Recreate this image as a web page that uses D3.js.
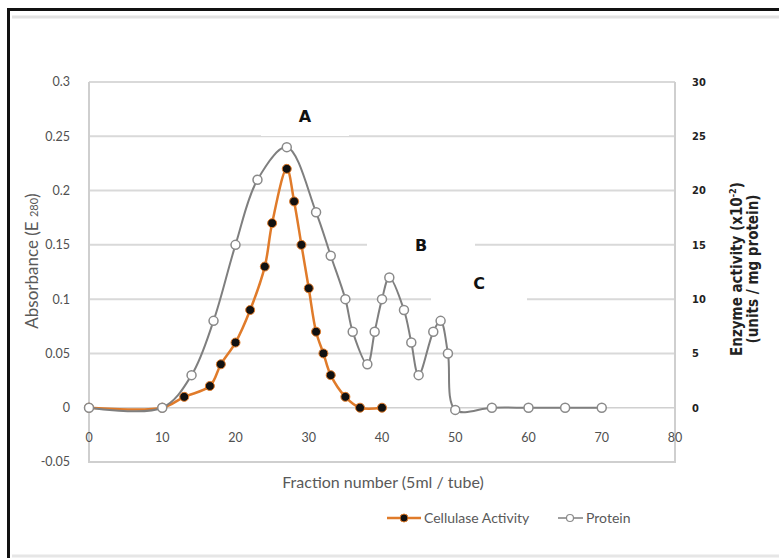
<!DOCTYPE html>
<html>
<head>
<meta charset="utf-8">
<script src="https://cdn.jsdelivr.net/npm/d3@7"></script>
<style>
  body { margin: 0; background: #fff; }
  svg { display: block; }
</style>
</head>
<body>
<svg id="chart" width="779" height="558"></svg>
<script>
// protein (absorbance, left axis)
var proteinX = [0, 10, 14, 17, 20, 23, 27, 31, 33, 35, 36, 38, 39, 40, 41, 43, 44, 45, 47, 48, 49, 50, 55, 60, 65, 70];
var proteinY = [0, 0, 0.03, 0.08, 0.15, 0.21, 0.24, 0.18, 0.14, 0.1, 0.07, 0.04, 0.07, 0.1, 0.12, 0.09, 0.06, 0.03, 0.07, 0.08, 0.05, -0.002, 0, 0, 0, 0];

// cellulase activity (right axis, units x10^-2)
var cellX = [0, 10, 13, 16.5, 18, 20, 22, 24, 25, 27, 28, 29, 30, 31, 32, 33, 35, 37, 40];
var cellY = [0, 0, 1, 2, 4, 6, 9, 13, 17, 22, 19, 15, 11, 7, 5, 3, 1, 0, 0];

var xTicks = [0, 10, 20, 30, 40, 50, 60, 70, 80];
var leftTicks = [-0.05, 0, 0.05, 0.1, 0.15, 0.2, 0.25, 0.3];
var rightTicks = [0, 5, 10, 15, 20, 25, 30];
var gridTicks = [0.05, 0.1, 0.15, 0.2, 0.25, 0.3];

var notes = [
  {t: "A", x: 305, y: 116, w: 88, h: 40},
  {t: "B", x: 421, y: 245, w: 108, h: 56},
  {t: "C", x: 479, y: 283, w: 96, h: 46}
];

var svg = d3.select("#chart");
var pLeft = 89, pRight = 675, pTop = 82, pBottom = 462;
var font = "Lato, 'Open Sans', sans-serif";
var font2 = "'DejaVu Sans Condensed', 'DejaVu Sans', sans-serif";

var x = d3.scaleLinear().domain([0, 80]).range([pLeft, pRight]);
var y = d3.scaleLinear().domain([-0.05, 0.3]).range([pBottom, pTop]);
var y2 = d3.scaleLinear().domain([-5, 30]).range([pBottom, pTop]);

// outer frame
svg.append("line").attr("x1", 8).attr("x2", 779).attr("y1", 9.5).attr("y2", 9.5)
  .attr("stroke", "#111").attr("stroke-width", 3);
svg.append("line").attr("x1", 8.5).attr("x2", 8.5).attr("y1", 8).attr("y2", 558)
  .attr("stroke", "#111").attr("stroke-width", 3);
svg.append("line").attr("x1", 12).attr("x2", 779).attr("y1", 17).attr("y2", 17)
  .attr("stroke", "#e2e2e2").attr("stroke-width", 3);
svg.append("line").attr("x1", 12).attr("x2", 779).attr("y1", 556).attr("y2", 556)
  .attr("stroke", "#e6e6e6").attr("stroke-width", 3);

// gridlines
svg.append("g").selectAll("line").data(gridTicks).enter().append("line")
  .attr("x1", pLeft).attr("x2", pRight)
  .attr("y1", function(d) { return y(d); }).attr("y2", function(d) { return y(d); })
  .attr("stroke", "#d9d9d9").attr("stroke-width", 2);

// zero axis line + frame
svg.append("line").attr("x1", pLeft).attr("x2", pRight).attr("y1", y(0)).attr("y2", y(0))
  .attr("stroke", "#d0d0d0").attr("stroke-width", 1.5);
svg.append("path")
  .attr("d", "M" + pLeft + "," + pTop + "V" + pBottom + "H" + pRight + "V" + pTop)
  .attr("fill", "none").attr("stroke", "#cfcfcf").attr("stroke-width", 2);

// white patches behind the annotation letters
svg.append("g").selectAll("rect").data(notes).enter().append("rect")
  .attr("x", function(d) { return d.x - d.w / 2; })
  .attr("y", function(d) { return d.y - d.h / 2; })
  .attr("width", function(d) { return d.w; })
  .attr("height", function(d) { return d.h; })
  .attr("fill", "#fff");

// left tick labels
svg.append("g").selectAll("text").data(leftTicks).enter().append("text")
  .attr("x", 70).attr("y", function(d) { return y(d); }).attr("dy", "0.35em")
  .attr("text-anchor", "end")
  .attr("font-family", font).attr("font-size", 12.5)
  .attr("fill", "#505050")
  .text(function(d) { return d === 0 ? "0" : String(+d.toFixed(2)); });

// right tick labels
svg.append("g").selectAll("text").data(rightTicks).enter().append("text")
  .attr("x", 692).attr("y", function(d) { return y2(d); }).attr("dy", "0.35em")
  .attr("font-family", font2)
  .attr("font-size", 11).attr("font-weight", "bold")
  .attr("fill", "#222")
  .text(function(d) { return d; });

// x tick labels
svg.append("g").selectAll("text").data(xTicks).enter().append("text")
  .attr("x", function(d) { return x(d); }).attr("y", 438).attr("dy", "0.35em")
  .attr("text-anchor", "middle")
  .attr("font-family", font).attr("font-size", 12.5)
  .attr("fill", "#505050")
  .text(function(d) { return d; });

// axis titles
var lt = svg.append("text")
  .attr("transform", "translate(38,261) rotate(-90)")
  .attr("text-anchor", "middle")
  .attr("font-family", font).attr("font-size", 17)
  .attr("fill", "#595959");
lt.append("tspan").text("Absorbance (E ");
lt.append("tspan").attr("font-size", 11).text("280");
lt.append("tspan").text(")");

var rt = svg.append("text")
  .attr("transform", "translate(742,269) rotate(-90)")
  .attr("text-anchor", "middle")
  .attr("font-family", font2)
  .attr("font-size", 15).attr("font-weight", "bold")
  .attr("fill", "#222");
rt.append("tspan").text("Enzyme activity (x10");
rt.append("tspan").attr("font-size", 9).attr("dy", -6).text("-2");
rt.append("tspan").attr("dy", 6).text(")");
svg.append("text")
  .attr("transform", "translate(758,269) rotate(-90)")
  .attr("text-anchor", "middle")
  .attr("font-family", font2)
  .attr("font-size", 15).attr("font-weight", "bold")
  .attr("fill", "#222")
  .text("(units / mg protein)");

svg.append("text")
  .attr("x", 383).attr("y", 482).attr("dy", "0.35em")
  .attr("text-anchor", "middle")
  .attr("font-family", font).attr("font-size", 16)
  .attr("fill", "#595959")
  .text("Fraction number (5ml / tube)");

// annotation letters
svg.append("g").selectAll("text").data(notes).enter().append("text")
  .attr("x", function(d) { return d.x; }).attr("y", function(d) { return d.y; })
  .attr("dy", "0.35em").attr("text-anchor", "middle")
  .attr("font-family", "'DejaVu Sans', sans-serif").attr("font-size", 16)
  .attr("font-weight", "bold").attr("fill", "#111")
  .text(function(d) { return d.t; });

// series
var cell = cellX.map(function(d, i) { return [d, cellY[i]]; });
var prot = proteinX.map(function(d, i) { return [d, proteinY[i]]; });

var cellLine = d3.line()
  .x(function(d) { return x(d[0]); }).y(function(d) { return y2(d[1]); })
  .curve(d3.curveCatmullRom.alpha(0.5));
var protLine = d3.line()
  .x(function(d) { return x(d[0]); }).y(function(d) { return y(d[1]); })
  .curve(d3.curveCatmullRom.alpha(0.5));

svg.append("path").datum(cell).attr("d", cellLine)
  .attr("fill", "none").attr("stroke", "#e07b2a").attr("stroke-width", 2.5);
svg.append("g").selectAll("circle").data(cell).enter().append("circle")
  .attr("cx", function(d) { return x(d[0]); }).attr("cy", function(d) { return y2(d[1]); })
  .attr("r", 4.5).attr("fill", "#111").attr("stroke", "#e07b2a").attr("stroke-width", 1);

svg.append("path").datum(prot).attr("d", protLine)
  .attr("fill", "none").attr("stroke", "#7f7f7f").attr("stroke-width", 2);
svg.append("g").selectAll("circle").data(prot).enter().append("circle")
  .attr("cx", function(d) { return x(d[0]); }).attr("cy", function(d) { return y(d[1]); })
  .attr("r", 4.5).attr("fill", "#fff").attr("stroke", "#8a8a8a").attr("stroke-width", 1.5);

// legend
var lg = svg.append("g").attr("font-family", font)
  .attr("font-size", 14).attr("fill", "#595959");
lg.append("line").attr("x1", 387).attr("x2", 421).attr("y1", 518).attr("y2", 518)
  .attr("stroke", "#e07b2a").attr("stroke-width", 2.5);
lg.append("circle").attr("cx", 404).attr("cy", 518).attr("r", 4)
  .attr("fill", "#111").attr("stroke", "#e07b2a");
lg.append("text").attr("x", 424).attr("y", 518).attr("dy", "0.35em").text("Cellulase Activity");
lg.append("line").attr("x1", 558).attr("x2", 583).attr("y1", 518).attr("y2", 518)
  .attr("stroke", "#7f7f7f").attr("stroke-width", 1.5);
lg.append("circle").attr("cx", 570).attr("cy", 518).attr("r", 3.5)
  .attr("fill", "#fff").attr("stroke", "#8a8a8a").attr("stroke-width", 1.2);
lg.append("text").attr("x", 586).attr("y", 518).attr("dy", "0.35em").text("Protein");
</script>
</body>
</html>
